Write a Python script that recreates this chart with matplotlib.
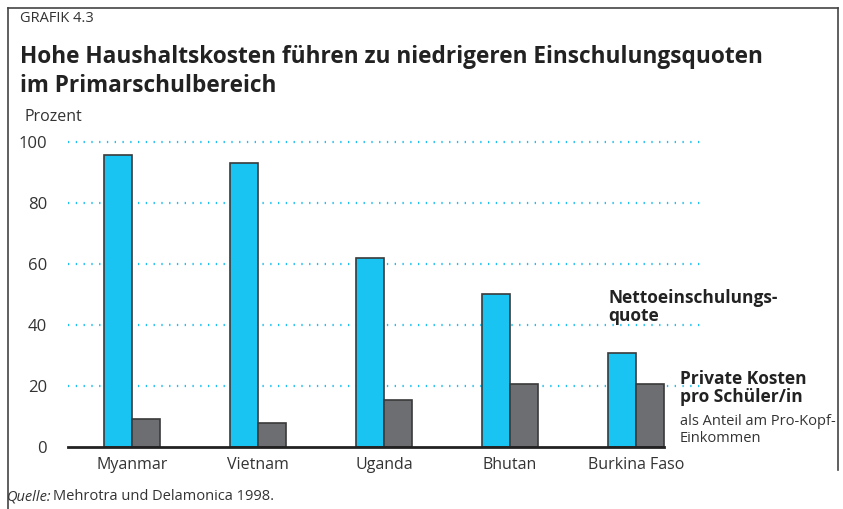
import matplotlib.pyplot as plt
import matplotlib.lines as mlines
import numpy as np

plt.rcParams['font.family'] = ['Open Sans', 'DejaVu Sans']

laender = ['Myanmar', 'Vietnam', 'Uganda', 'Bhutan', 'Burkina Faso']
netto_quote = [95.7, 93.0, 62.0, 50.2, 30.8]
private_kosten = [9.2, 7.9, 15.4, 20.7, 20.7]
y_ticks = [0, 20, 40, 60, 80, 100]

W, H = 843, 509
fig = plt.figure(figsize=(W / 100, H / 100), dpi=100)

# axes in pixel coords: x 68..705, y 142 (100) .. 447 (0)
ax = fig.add_axes([68 / W, 1 - 447 / H, (705 - 68) / W, (447 - 142) / H])

x = np.arange(len(laender))
bw = 0.222
blue = '#19c3f2'
grey = '#6d6e71'
edge = '#3a3a3a'

for yv in y_ticks[1:]:
    ax.axhline(yv, color='#1ec0ee', lw=1.6, ls=(0, (0.6, 2.9)), zorder=1, clip_on=False)

ax.bar(x - bw / 2, netto_quote, width=bw, color=blue, edgecolor=edge, linewidth=1.2, zorder=3)
ax.bar(x + bw / 2, private_kosten, width=bw, color=grey, edgecolor=edge, linewidth=1.2, zorder=3)

ax.plot([-0.508, x[-1] + bw], [0, 0], color='#222222', lw=2, zorder=4, clip_on=False)

ax.set_xlim(-0.508, 4.548)
ax.set_ylim(0, 100)
for s in ax.spines.values():
    s.set_visible(False)
ax.set_yticks(y_ticks)
ax.set_yticklabels([str(v) for v in y_ticks], fontsize=12, color='#333333')
ax.set_xticks(x)
ax.set_xticklabels(laender, fontsize=11.5, color='#333333')
ax.tick_params(axis='both', length=0)
ax.tick_params(axis='y', pad=15)
ax.tick_params(axis='x', pad=7)

txt = '#222222'
fig.text(20 / W, 1 - 19 / H, 'GRAFIK 4.3', fontsize=10.5, color='#333333', va='center')
fig.text(20 / W, 1 - 57 / H, 'Hohe Haushaltskosten führen zu niedrigeren Einschulungsquoten',
         fontsize=16.3, fontweight='bold', color=txt, va='center')
fig.text(20 / W, 1 - 86 / H, 'im Primarschulbereich',
         fontsize=16.3, fontweight='bold', color=txt, va='center')
fig.text(24 / W, 1 - 117 / H, 'Prozent', fontsize=11.5, color='#333333', va='center')

fig.text(608 / W, 1 - 307 / H, 'Nettoeinschulungs-\nquote', fontsize=12.5, fontweight='bold',
         color=txt, va='center', linespacing=1.05)
fig.text(680 / W, 1 - 388 / H, 'Private Kosten\npro Schüler/in', fontsize=12.5, fontweight='bold',
         color=txt, va='center', linespacing=1.05)
fig.text(680 / W, 1 - 430 / H, 'als Anteil am Pro-Kopf-\nEinkommen', fontsize=10.5,
         color='#333333', va='center', linespacing=1.1)

fig.text(7 / W, 1 - 497 / H, 'Quelle:', fontsize=10.5, style='italic', color='#333333', va='center')
fig.text(53 / W, 1 - 497 / H, 'Mehrotra und Delamonica 1998.', fontsize=10.5, color='#333333', va='center')

# frame
frame_c = '#444444'
fig.add_artist(mlines.Line2D([8 / W, 8 / W], [0, 1 - 8 / H], color=frame_c, lw=1.2))
fig.add_artist(mlines.Line2D([8 / W, 838 / W], [1 - 8 / H, 1 - 8 / H], color=frame_c, lw=1.2))
fig.add_artist(mlines.Line2D([838 / W, 838 / W], [1 - 8 / H, 1 - 470 / H], color=frame_c, lw=1.2))

fig.savefig('out.png', dpi=100)
